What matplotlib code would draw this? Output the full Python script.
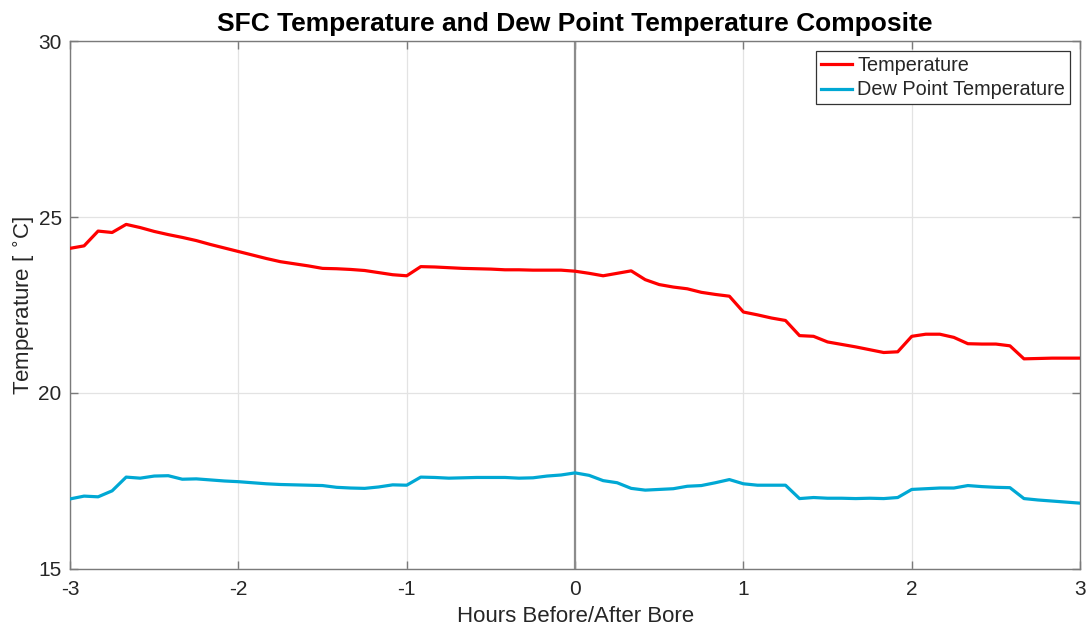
import numpy as np
import matplotlib.pyplot as plt

# composite surface obs at 5-minute steps, -3 h to +3 h around bore passage
hours = np.arange(-36, 37) / 12.0

temperature = [
    24.11, 24.18, 24.60, 24.56, 24.79, 24.70, 24.59, 24.50, 24.42, 24.33,
    24.22, 24.12, 24.02, 23.92, 23.82, 23.73, 23.67, 23.61, 23.54, 23.53,
    23.51, 23.48, 23.42, 23.36, 23.33, 23.59, 23.58, 23.56, 23.54, 23.53,
    23.52, 23.50, 23.50, 23.49, 23.49, 23.49, 23.46, 23.40, 23.33, 23.40,
    23.47, 23.22, 23.08, 23.01, 22.96, 22.86, 22.80, 22.75, 22.30, 22.22,
    22.13, 22.06, 21.63, 21.61, 21.45, 21.38, 21.31, 21.23, 21.15, 21.17,
    21.61, 21.67, 21.67, 21.58, 21.40, 21.39, 21.39, 21.34, 20.97, 20.98,
    20.99, 20.99, 20.99,
]

dew_point = [
    16.99, 17.07, 17.05, 17.22, 17.61, 17.58, 17.64, 17.65, 17.55, 17.56,
    17.53, 17.50, 17.48, 17.45, 17.42, 17.40, 17.39, 17.38, 17.37, 17.32,
    17.30, 17.29, 17.33, 17.39, 17.38, 17.61, 17.60, 17.58, 17.59, 17.60,
    17.60, 17.60, 17.58, 17.59, 17.64, 17.67, 17.73, 17.66, 17.51, 17.45,
    17.29, 17.24, 17.26, 17.28, 17.35, 17.37, 17.45, 17.54, 17.42, 17.38,
    17.38, 17.38, 17.00, 17.03, 17.01, 17.01, 17.00, 17.01, 17.00, 17.03,
    17.26, 17.28, 17.30, 17.30, 17.37, 17.34, 17.32, 17.31, 17.00, 16.96,
    16.93, 16.90, 16.87,
]

plt.rcParams['font.family'] = ['Liberation Sans', 'DejaVu Sans']
plt.rcParams['axes.unicode_minus'] = False
text_color = '#262626'

fig = plt.figure(figsize=(10.91, 6.31), dpi=100)
ax = fig.add_axes([0.0642, 0.0983, 0.9258, 0.8367])

ax.axvline(0, color='#8c8c8c', linewidth=1.6, zorder=1)
ax.plot(hours, temperature, color='#ff0000', linewidth=2.3, label='Temperature', zorder=3)
ax.plot(hours, dew_point, color='#00a8d4', linewidth=2.3, label='Dew Point Temperature', zorder=3)

ax.set_xlim(-3, 3)
ax.set_ylim(15, 30)
ax.set_xticks(np.arange(-3, 4, 1))
ax.set_yticks([15, 20, 25, 30])
ax.grid(True, color='#e3e3e3', linewidth=0.9)
ax.set_axisbelow(True)

for side in ax.spines.values():
    side.set_color('#7a7a7a')
    side.set_linewidth(1.0)
ax.tick_params(direction='in', length=6, width=1.0, color='#7a7a7a',
               labelsize=15, labelcolor=text_color, top=True, right=True)
ax.tick_params(axis='x', pad=8)
ax.tick_params(axis='y', pad=6)

ax.set_title('SFC Temperature and Dew Point Temperature Composite',
             fontsize=19, fontweight='bold', color='black', pad=7)
ax.set_xlabel('Hours Before/After Bore', fontsize=16, color=text_color, labelpad=5)
ax.set_ylabel('Temperature [ $^{\\circ}$C]', fontsize=16, color=text_color, labelpad=1)

leg = ax.legend(loc='upper right', fontsize=14.3, handlelength=1.6, handletextpad=0.25,
                borderpad=0.25, labelspacing=0.28, fancybox=False, framealpha=1,
                borderaxespad=0.5)
leg.get_frame().set_edgecolor('#333333')
leg.get_frame().set_linewidth(0.9)
for t in leg.get_texts():
    t.set_color(text_color)

fig.savefig('out.png', dpi=100)
